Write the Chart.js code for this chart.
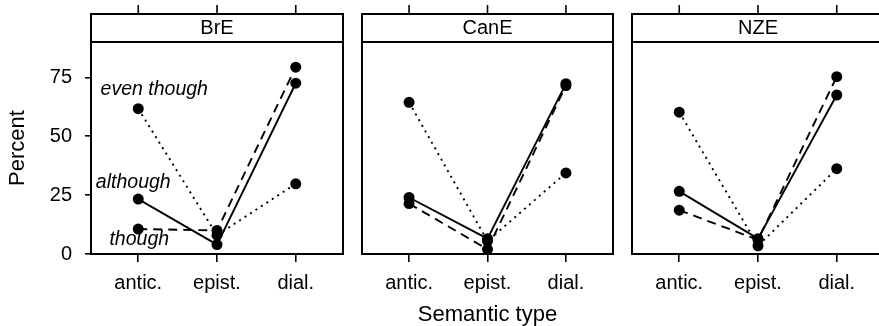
<!DOCTYPE html>
<html>
<head>
<meta charset="utf-8">
<script src="https://cdn.jsdelivr.net/npm/chart.js@4.4.1/dist/chart.umd.min.js"></script>
<style>
  html, body { margin: 0; padding: 0; background: #fff; overflow: hidden; width: 879px; height: 326px; }
  canvas { position: absolute; top: 0; }
</style>
</head>
<body>
<canvas id="p0" width="352" height="326" style="left:0px"></canvas>
<canvas id="p1" width="270" height="326" style="left:352px"></canvas>
<canvas id="p2" width="270" height="326" style="left:622px"></canvas>
<script>
// categories and panels
const categories = ['antic.', 'epist.', 'dial.'];
const varieties = ['BrE', 'CanE', 'NZE'];
const yTicks = [0, 25, 50, 75];

// percent per semantic type, one row per variety (BrE, CanE, NZE)
const althoughPct   = [[23.3, 4.0, 72.5], [24.0, 6.5, 72.3], [26.6, 6.5, 67.5]];
const thoughPct     = [[10.6, 10.0, 79.3], [21.4, 2.0, 71.5], [18.6, 6.0, 75.3]];
const evenThoughPct = [[61.7, 8.0, 29.8], [64.4, 5.5, 34.4], [60.2, 3.5, 36.2]];

const seriesNames = ['although', 'though', 'even though'];
const seriesDash = [[], [9, 6], [2, 4.5]];
// label offsets (px) from each series' first point, first panel only
const labelDx = [-5, 1, 16];
const labelDy = [-17, 11, -19];

const FONT = "'Liberation Sans', Arial, Helvetica, sans-serif";

const frame = {
  id: 'frame',
  afterDraw(chart) {
    const ctx = chart.ctx;
    const a = chart.chartArea;
    const x = chart.scales.x;
    ctx.save();
    ctx.strokeStyle = '#000';
    ctx.lineWidth = 2;
    ctx.strokeRect(a.left, a.top, a.right - a.left, a.bottom - a.top);
    // strip
    ctx.strokeRect(a.left, 14, a.right - a.left, a.top - 14);
    ctx.fillStyle = '#000';
    ctx.font = '20px ' + FONT;
    ctx.textAlign = 'center';
    ctx.textBaseline = 'middle';
    ctx.fillText(chart.options.plugins.frame.strip, (a.left + a.right) / 2, 28.5);
    // top ticks
    ctx.lineWidth = 1.6;
    categories.forEach((c, i) => {
      const px = x.getPixelForValue(i);
      ctx.beginPath();
      ctx.moveTo(px, 5);
      ctx.lineTo(px, 14);
      ctx.stroke();
    });
    // series labels
    if (chart.options.plugins.frame.labels) {
      const y = chart.scales.y;
      ctx.font = 'italic 19.5px ' + FONT;
      chart.data.datasets.forEach((ds, i) => {
        ctx.fillText(ds.label, x.getPixelForValue(0) + labelDx[i], y.getPixelForValue(ds.data[0].y) + labelDy[i]);
      });
    }
    ctx.restore();
  }
};

function makePanel(k) {
  const rows = [althoughPct[k], thoughPct[k], evenThoughPct[k]];
  const first = k === 0;
  const datasets = rows.map((r, i) => ({
    label: seriesNames[i],
    data: r.map((v, j) => ({ x: j, y: v })),
    borderColor: '#000',
    backgroundColor: '#000',
    borderWidth: 1.9,
    borderDash: seriesDash[i],
    pointRadius: 5.5,
    pointBorderWidth: 0,
    pointBackgroundColor: '#000',
    clip: false,
    tension: 0
  }));
  new Chart(document.getElementById('p' + k), {
    type: 'line',
    data: { datasets: datasets },
    options: {
      responsive: false,
      animation: false,
      layout: { padding: { top: 42, bottom: 0, left: first ? 0 : 10, right: k === 2 ? 8 : 9 } },
      plugins: {
        legend: { display: false },
        tooltip: { enabled: false },
        frame: { strip: varieties[k], labels: first }
      },
      scales: {
        x: {
          type: 'linear',
          min: -0.6,
          max: 2.6,
          afterBuildTicks: s => { s.ticks = categories.map((c, i) => ({ value: i })); },
          afterFit: s => { s.height = 72; },
          ticks: {
            callback: v => categories[v],
            color: '#000',
            font: { family: FONT, size: 20 },
            padding: 9,
            maxRotation: 0
          },
          grid: { drawOnChartArea: false, tickLength: 8, color: '#000', lineWidth: 1.6 },
          border: { display: false },
          title: {
            display: k === 1,
            text: 'Semantic type',
            color: '#000',
            font: { family: FONT, size: 22, lineHeight: 1 },
            padding: 0
          }
        },
        y: {
          display: first,
          min: 0,
          max: 90,
          afterBuildTicks: s => { s.ticks = yTicks.map(v => ({ value: v })); },
          afterFit: s => { s.width = first ? 91 : 0; },
          ticks: { color: '#000', font: { family: FONT, size: 20 }, padding: 13 },
          grid: { drawOnChartArea: false, tickLength: 6, color: '#000', lineWidth: 1.6 },
          border: { display: false },
          title: {
            display: true,
            text: 'Percent',
            color: '#000',
            font: { family: FONT, size: 22 },
            padding: { top: 5, bottom: 0 }
          }
        }
      }
    },
    plugins: [frame]
  });
}

varieties.forEach((v, k) => makePanel(k));
</script>
</body>
</html>
